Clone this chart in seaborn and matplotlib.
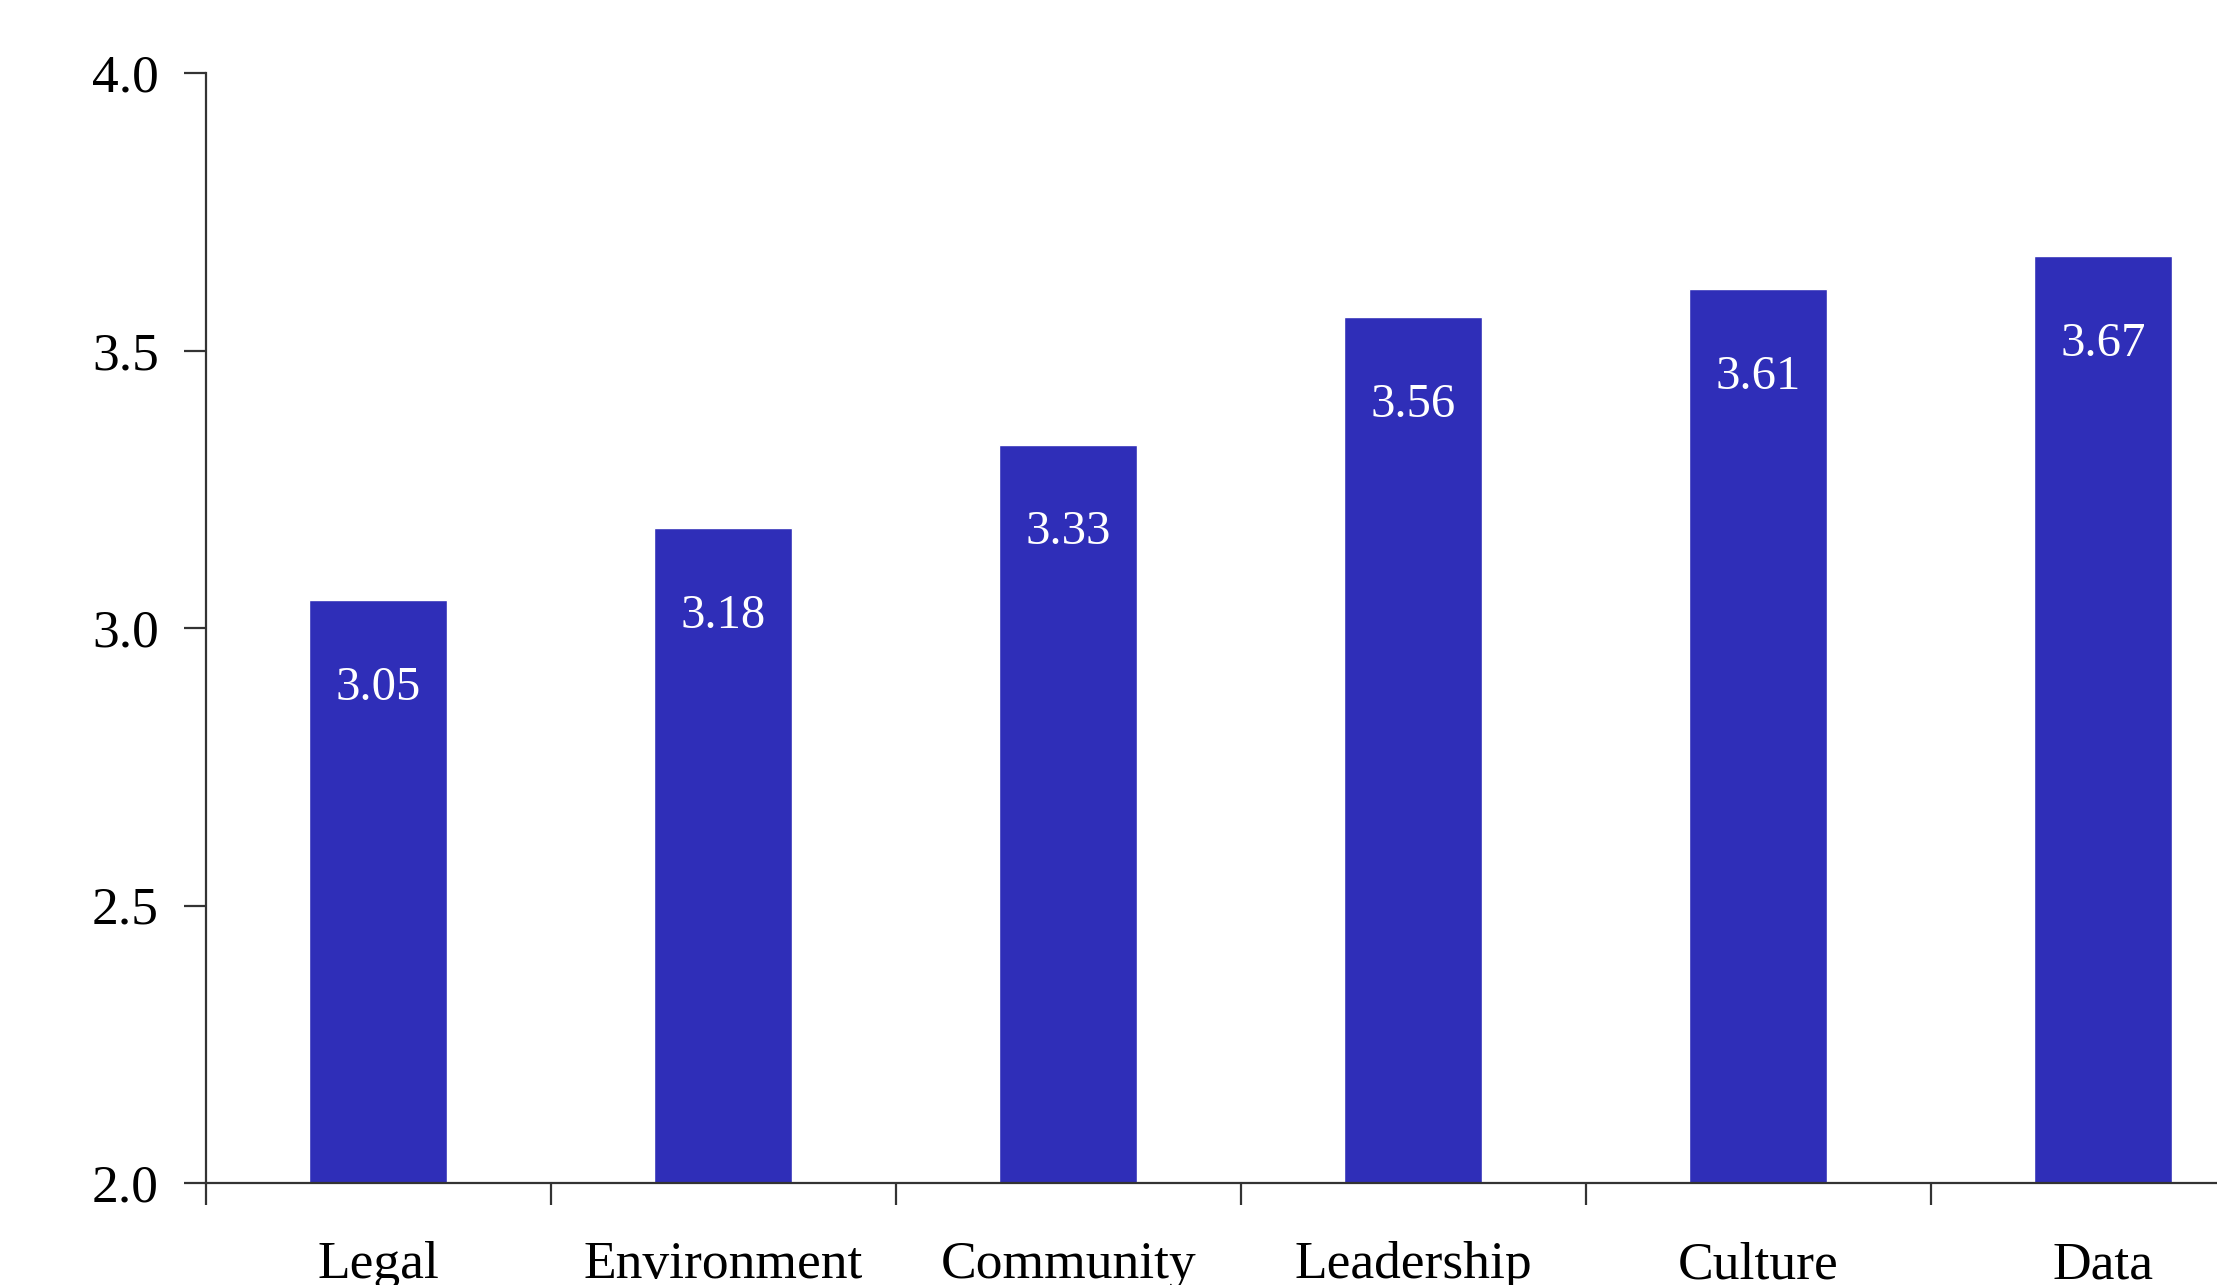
import matplotlib
matplotlib.use("Agg")
import matplotlib.pyplot as plt
import seaborn as sns
import pandas as pd
import numpy as np

categories = ["Legal", "Environment", "Community", "Leadership", "Culture", "Data"]
scores = [3.05, 3.18, 3.33, 3.56, 3.61, 3.67]
y_ticks = [2.0, 2.5, 3.0, 3.5, 4.0]

sns.set_theme(style="white")
plt.rcParams['font.family'] = ['Liberation Serif', 'DejaVu Serif']

df = pd.DataFrame({"category": categories, "score": scores})

fig = plt.figure(figsize=(22.17, 12.85), dpi=100)
ax = fig.add_axes([206/2217, (1285-1183)/1285, 1 - 206/2217, (1183-73)/1285])

bar_color = "#2F2EB8"
sns.barplot(data=df, x="category", y="score", color=bar_color, width=0.4,
            saturation=1, ax=ax)

ax.set_ylim(2.0, 4.0)
ax.set_xlim(-0.5, 5.33)
ax.set_yticks(y_ticks)
ax.set_yticklabels([f"{t:.1f}" for t in y_ticks])
ax.set_xlabel("")
ax.set_ylabel("")

# major ticks at centers (labels only), minor ticks at boundaries
ax.set_xticks(np.arange(len(categories)))
ax.set_xticklabels(categories)
ax.set_xticks(np.arange(len(categories)) - 0.5, minor=True)
ax.tick_params(axis="x", which="major", length=0, pad=42, labelsize=38.5, colors="black")
ax.tick_params(axis="x", which="minor", length=16, width=1.6, color="#333333", direction="out", bottom=True)
ax.tick_params(axis="y", which="major", length=16, width=1.6, color="#333333", direction="out",
               pad=18, labelsize=38.5, left=True, labelcolor="black")

for s in ["top", "right"]:
    ax.spines[s].set_visible(False)
for s in ["left", "bottom"]:
    ax.spines[s].set_color("#333333")
    ax.spines[s].set_linewidth(1.6)

for i, v in enumerate(scores):
    ax.annotate(f"{v:.2f}", xy=(i, v), xytext=(0, -63), textcoords="offset points",
                ha="center", va="center", color="white", fontsize=35)

fig.savefig("out.png", dpi=100)
